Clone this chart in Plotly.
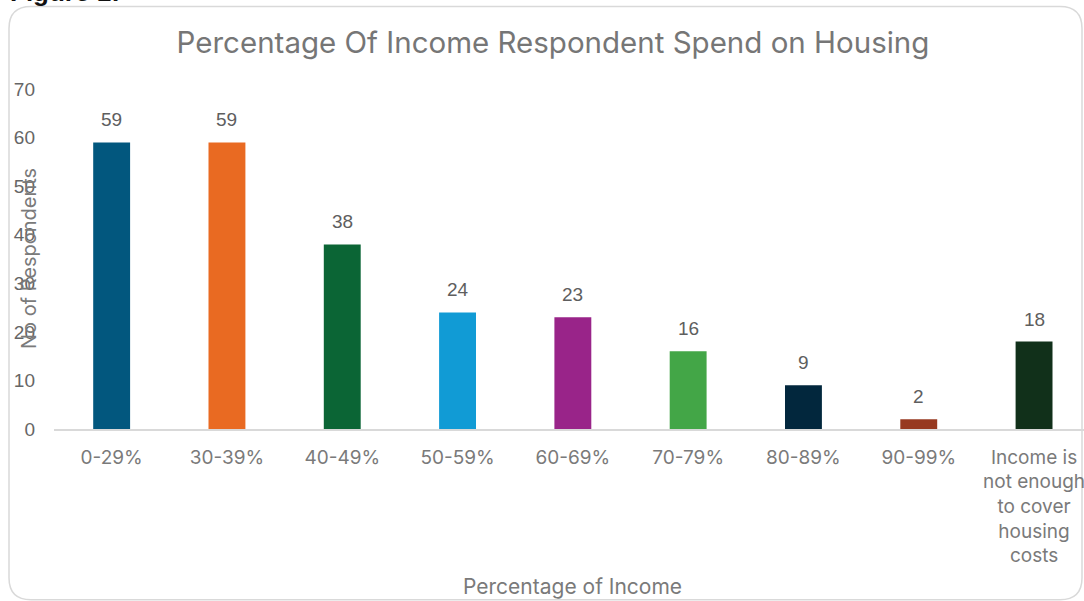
import plotly.graph_objects as go

# Share of income respondents spend on housing
categories = ["0-29%", "30-39%", "40-49%", "50-59%", "60-69%",
              "70-79%", "80-89%", "90-99%",
              "Income is<br>not enough<br>to cover<br>housing<br>costs"]
respondents = [59, 59, 38, 24, 23, 16, 9, 2, 18]
bar_colors = ["#02577E", "#E96A22", "#0B6535", "#119BD5", "#992489",
              "#43A647", "#02273D", "#973920", "#11301A"]
y_ticks = [0, 10, 20, 30, 40, 50, 60, 70]

W, H = 1084, 601
L, R, T, B = 54, 0, 88.5, 172
plot_w = W - L - R
plot_h = H - T - B

def px_to_paper(px, py):
    return (px - L) / plot_w, (H - B - py) / plot_h

fig = go.Figure()
fig.add_trace(go.Bar(
    x=list(range(len(categories))),
    y=respondents,
    marker=dict(color=bar_colors, line=dict(width=0)),
    hoverinfo="skip",
))

# value labels above each bar
for i, v in enumerate(respondents):
    fig.add_annotation(
        x=i, y=v, xref="x", yref="y", text=str(v), showarrow=False,
        yanchor="bottom", yshift=10,
        font=dict(family="Liberation Sans, Arial", size=19, color="#5E5E5E"),
    )

# rounded frame around the chart area
x0, y0, x1, y1, r = 9, 6, 1082, 600, 22
def p(x, y):
    a, b = px_to_paper(x, y)
    return f"{a:.5f},{b:.5f}"
path = (f"M {p(x0 + r, y0)} L {p(x1 - r, y0)} Q {p(x1, y0)} {p(x1, y0 + r)} "
        f"L {p(x1, y1 - r)} Q {p(x1, y1)} {p(x1 - r, y1)} "
        f"L {p(x0 + r, y1)} Q {p(x0, y1)} {p(x0, y1 - r)} "
        f"L {p(x0, y0 + r)} Q {p(x0, y0)} {p(x0 + r, y0)} Z")
fig.add_shape(type="path", path=path, xref="paper", yref="paper",
              line=dict(color="#D9D9D9", width=1.5), layer="below")

# caption above the frame
cx, cy = px_to_paper(8, 8)
fig.add_annotation(
    x=cx, y=cy, xref="paper", yref="paper", text="<b>Figure 1:</b>",
    showarrow=False, xanchor="left", yanchor="bottom",
    font=dict(family="Liberation Sans, Arial", size=26, color="#111111"),
)

# axis titles
ax, ay = px_to_paper(572, 587)
fig.add_annotation(
    x=ax, y=ay, xref="paper", yref="paper", text="Percentage of Income",
    showarrow=False, xanchor="center", yanchor="middle",
    font=dict(family="Inter, Liberation Sans", size=21, color="#7A7A7A"),
)
yx, yy = px_to_paper(29, 258.75)
fig.add_annotation(
    x=yx, y=yy, xref="paper", yref="paper", text="No of Respondents",
    showarrow=False, textangle=-90, xanchor="center", yanchor="middle",
    font=dict(family="Inter, Liberation Sans", size=20, color="#7A7A7A"),
)

fig.update_layout(
    width=W, height=H,
    margin=dict(l=L, r=R, t=T, b=B),
    paper_bgcolor="white", plot_bgcolor="white",
    showlegend=False,
    bargap=0.68,
    title=dict(
        text="Percentage Of Income Respondent Spend on Housing",
        x=553 / W, xanchor="center", y=1 - 43 / H, yanchor="middle",
        font=dict(family="Inter, Liberation Sans", size=29.5, color="#767676"),
    ),
    xaxis=dict(
        tickmode="array", tickvals=list(range(len(categories))),
        ticktext=categories, range=[-0.5, -0.5 + plot_w / 115.3],
        showgrid=False, zeroline=False, showline=True,
        linecolor="#D9D9D9", linewidth=1.5, ticks="",
        ticklabelstandoff=10, ticklabeloverflow="allow",
        tickfont=dict(family="Inter, Liberation Sans", size=19, color="#7A7A7A"),
    ),
    yaxis=dict(
        range=[0, 70], tickvals=y_ticks, showgrid=False, zeroline=False,
        showline=False, ticks="", ticklabelstandoff=18,
        tickfont=dict(family="Liberation Sans, Arial", size=19, color="#666666"),
    ),
)

fig.write_html("out.html")
